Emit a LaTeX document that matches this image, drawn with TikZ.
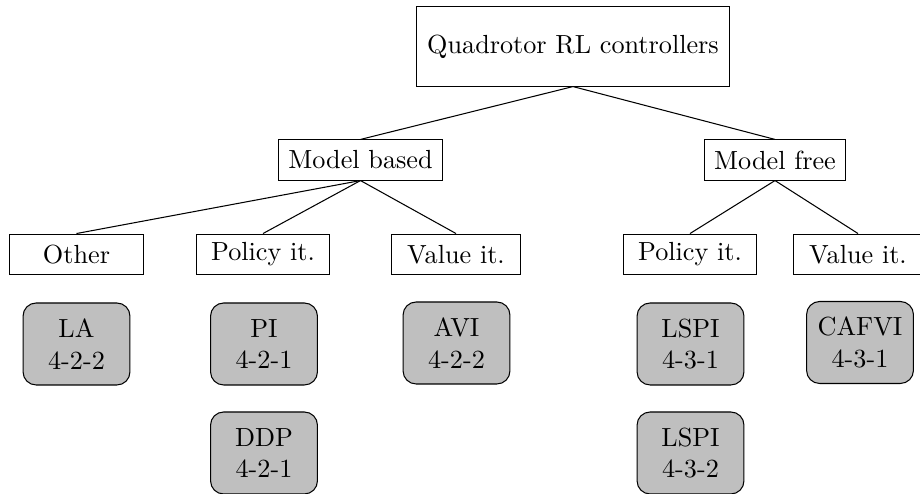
\documentclass[tikz,border=0pt]{standalone}
\begin{document}
% one unit is one pixel of a 920 x 494 sheet, y grows downward
\begin{tikzpicture}[x=0.3817pt,y=-0.3817pt,
  rootbox/.style={draw, inner xsep=4.1pt, inner ysep=0pt, minimum height=30.2pt},
  classbox/.style={draw, inner xsep=3.85pt, inner ysep=0pt, minimum height=15.3pt},
  kindbox/.style={draw, inner sep=0pt, minimum height=15.6pt, minimum width=#1},
  kindbox/.default=50pt,
  leaf/.style={draw, fill=gray!50, rounded corners=5pt, inner sep=0pt,
    minimum width=40.8pt, minimum height=31.3pt, align=center},
  branch/.style={draw, line width=0.4pt}]
\useasboundingbox (0,0) rectangle (920,494);

% root and first split
\node[rootbox] (root) at (573,46.5) {Quadrotor RL controllers};
\node[classbox] (mb) at (360.5,160) {Model based};
\node[classbox] (mf) at (775,160) {Model free};

% kinds of method
\node[kindbox=50.8pt] (oth) at (76.5,254.5) {Other};
\node[kindbox=51.1pt] (pl) at (263,254.5) {Policy it.};
\node[kindbox=48.9pt] (vl) at (456,254.5) {Value it.};
\node[kindbox=51.1pt] (pr) at (690,254.5) {Policy it.};
\node[kindbox=48.9pt] (vr) at (858,254.5) {Value it.};

% methods with their sections
\node[leaf] (la) at (76.5,344) {LA\\4-2-2};
\node[leaf] (pi) at (264,344) {PI\\4-2-1};
\node[leaf] (ddp) at (264,453) {DDP\\4-2-1};
\node[leaf] (avi) at (456.5,343) {AVI\\4-2-2};
\node[leaf] (lspa) at (690.5,344) {LSPI\\4-3-1};
\node[leaf] (lspb) at (690.5,453) {LSPI\\4-3-2};
\node[leaf] (cafvi) at (860,342.5) {CAFVI\\4-3-1};

% tree branches
\draw[branch] (root.south) -- (mb.north);
\draw[branch] (root.south) -- (mf.north);
\draw[branch] (mb.south) -- (oth.north);
\draw[branch] (mb.south) -- (pl.north);
\draw[branch] (mb.south) -- (vl.north);
\draw[branch] (mf.south) -- (pr.north);
\draw[branch] (mf.south) -- (vr.north);
\end{tikzpicture}
\end{document}
